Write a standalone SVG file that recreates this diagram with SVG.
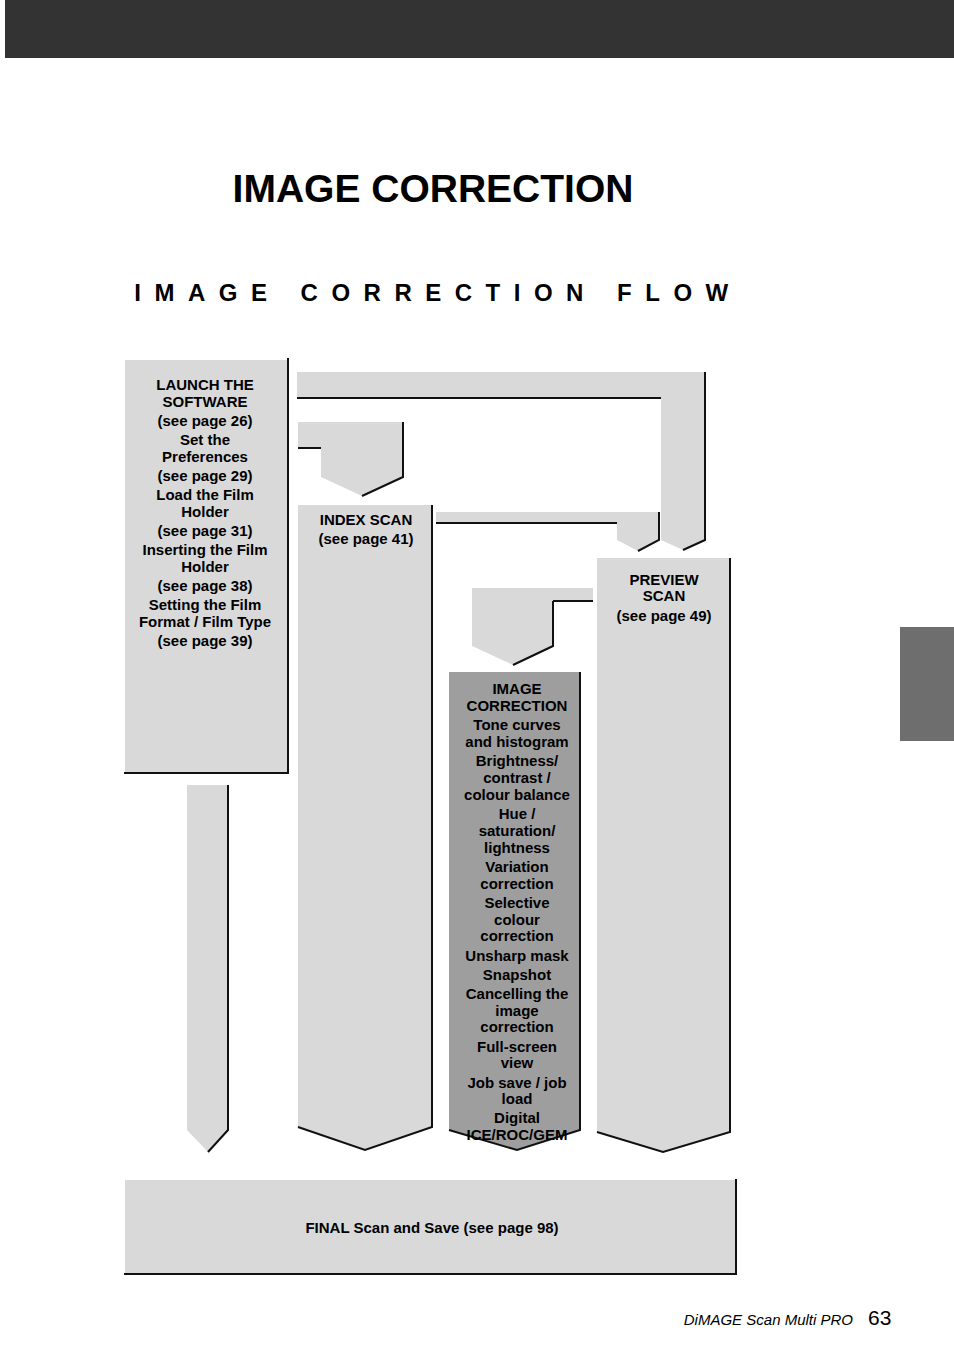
<svg xmlns="http://www.w3.org/2000/svg" width="954" height="1351" viewBox="0 0 954 1351">
<style>
.f{fill:#d9d9d9;stroke:none}
.e{fill:none;stroke:#111;stroke-width:2}
.t{font-family:"Liberation Sans",Arial,sans-serif;font-weight:bold;font-size:15px;text-anchor:middle;fill:#000}
</style>
<rect width="954" height="1351" fill="#fff"/>
<rect x="5" y="0" width="949" height="58" fill="#333"/>
<rect x="900" y="627" width="54" height="114" fill="#6e6e6e"/>
<text x="433" y="202" font-family="Liberation Sans,Arial,sans-serif" font-weight="bold" font-size="39" text-anchor="middle">IMAGE CORRECTION</text>
<text x="438" y="301" font-family="Liberation Sans,Arial,sans-serif" font-weight="bold" font-size="24" letter-spacing="13.5" text-anchor="middle">IMAGE CORRECTION FLOW</text>
<g id="connectors">
<path class="f" d="M297 372H705V540L683 550L661 540V398H297Z"/>
<path class="e" d="M297 398H661M705 372V540L683 550"/>
<path class="f" d="M298 422H403V477L362 496L321 477V448H298Z"/>
<path class="e" d="M298 448H321M403 422V477L362 496"/>
<path class="f" d="M436 512H659V540L638 551L617 540V523H436Z"/>
<path class="e" d="M436 523H617M659 512V540L638 551"/>
<path class="f" d="M472 588H593V601H553V646L513 665L472 646Z"/>
<path class="e" d="M553 601H593M553 601V646L513 665"/>
<path class="f" d="M187 785H228V1130L208 1152L187 1130Z"/>
<path class="e" d="M228 785V1130L208 1152"/>
</g>
<g id="launch">
<rect class="f" x="125" y="360" width="163" height="413"/>
<path class="e" d="M288 358V773H124"/>
<text class="t"><tspan x="205" y="390">LAUNCH THE</tspan><tspan x="205" y="407">SOFTWARE</tspan><tspan x="205" y="426">(see page 26)</tspan><tspan x="205" y="445">Set the</tspan><tspan x="205" y="462">Preferences</tspan><tspan x="205" y="481">(see page 29)</tspan><tspan x="205" y="500">Load the Film</tspan><tspan x="205" y="517">Holder</tspan><tspan x="205" y="536">(see page 31)</tspan><tspan x="205" y="555">Inserting the Film</tspan><tspan x="205" y="572">Holder</tspan><tspan x="205" y="591">(see page 38)</tspan><tspan x="205" y="610">Setting the Film</tspan><tspan x="205" y="627">Format / Film Type</tspan><tspan x="205" y="646">(see page 39)</tspan></text>
</g>
<g id="index">
<path class="f" d="M298 505H432V1127L365 1150L298 1127Z"/>
<path class="e" d="M432 505V1127L365 1150L298 1127"/>
<text class="t"><tspan x="366" y="525">INDEX SCAN</tspan><tspan x="366" y="544">(see page 41)</tspan></text>
</g>
<g id="correction">
<path d="M449 672H580V1130L517 1150L449 1130Z" fill="#9e9e9e"/>
<path class="e" d="M580 672V1130L517 1150L449 1130"/>
<text class="t"><tspan x="517" y="694">IMAGE</tspan><tspan x="517" y="711">CORRECTION</tspan><tspan x="517" y="730">Tone curves</tspan><tspan x="517" y="747">and histogram</tspan><tspan x="517" y="766">Brightness/</tspan><tspan x="517" y="783">contrast /</tspan><tspan x="517" y="800">colour balance</tspan><tspan x="517" y="819">Hue /</tspan><tspan x="517" y="836">saturation/</tspan><tspan x="517" y="853">lightness</tspan><tspan x="517" y="872">Variation</tspan><tspan x="517" y="889">correction</tspan><tspan x="517" y="908">Selective</tspan><tspan x="517" y="925">colour</tspan><tspan x="517" y="941">correction</tspan><tspan x="517" y="961">Unsharp mask</tspan><tspan x="517" y="980">Snapshot</tspan><tspan x="517" y="999">Cancelling the</tspan><tspan x="517" y="1016">image</tspan><tspan x="517" y="1032">correction</tspan><tspan x="517" y="1052">Full-screen</tspan><tspan x="517" y="1068">view</tspan><tspan x="517" y="1088">Job save / job</tspan><tspan x="517" y="1104">load</tspan><tspan x="517" y="1123">Digital</tspan><tspan x="517" y="1140">ICE/ROC/GEM</tspan></text>
</g>
<g id="preview">
<path class="f" d="M597 558H730V1132L663 1152L597 1132Z"/>
<path class="e" d="M730 558V1132L663 1152L597 1132"/>
<text class="t"><tspan x="664" y="585">PREVIEW</tspan><tspan x="664" y="601">SCAN</tspan><tspan x="664" y="621">(see page 49)</tspan></text>
</g>
<g id="final">
<rect class="f" x="125" y="1180" width="611" height="94"/>
<path class="e" d="M736 1179V1274H124"/>
<text class="t" x="432" y="1233">FINAL Scan and Save (see page 98)</text>
</g>
<text x="853" y="1325" font-family="Liberation Sans,Arial,sans-serif" font-style="italic" font-size="15" text-anchor="end">DiMAGE Scan Multi PRO</text>
<text x="868" y="1325" font-family="Liberation Sans,Arial,sans-serif" font-size="21">63</text>
</svg>
